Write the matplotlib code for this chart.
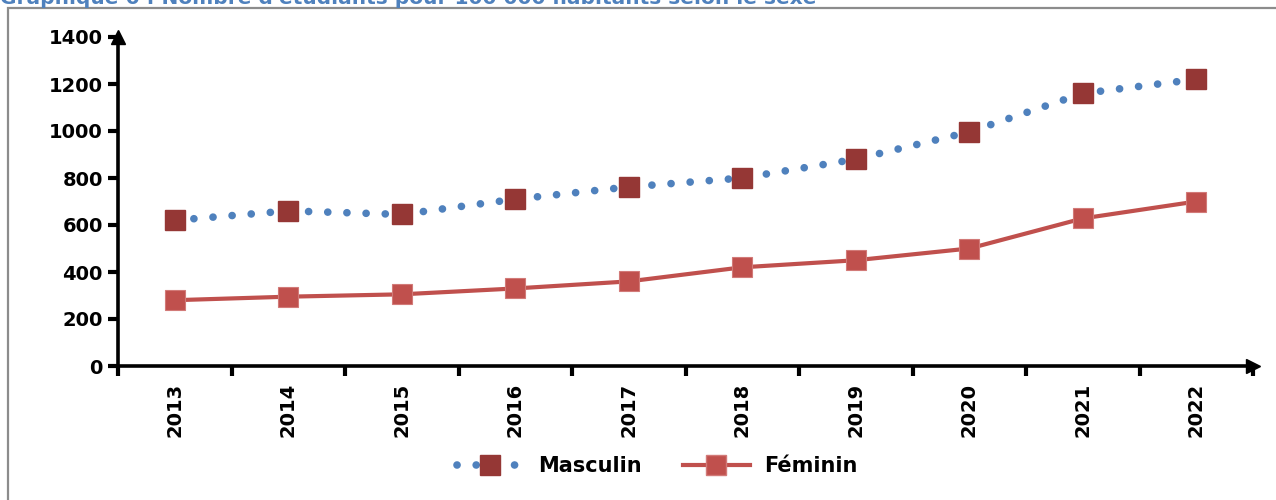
import matplotlib.pyplot as plt
import matplotlib
from matplotlib.lines import Line2D
from matplotlib.patches import Rectangle

matplotlib.rcParams['font.family'] = ['DejaVu Sans']
matplotlib.rcParams['font.weight'] = 'bold'

annees = ['2013', '2014', '2015', '2016', '2017', '2018', '2019', '2020', '2021', '2022']
masculin = [620, 660, 645, 710, 762, 800, 880, 996, 1160, 1220]
feminin = [280, 295, 305, 330, 360, 420, 450, 500, 628, 700]
titre = "Graphique 6 : Nombre d'étudiants pour 100 000 habitants selon le sexe"

fig = plt.figure(figsize=(12.76, 5), dpi=100)
ax = fig.add_axes([118 / 1276, 1 - 366 / 500, (1253 - 118) / 1276, (366 - 37) / 500])

pointille = (0, (0.01, 2.5))
x = list(range(len(annees)))
ax.plot(x, masculin, color='#4F81BD', lw=5.5, linestyle=pointille,
        dash_capstyle='round', zorder=2)
ax.plot(x, masculin, linestyle='none', marker='s', ms=14.5, color='#953735',
        mec='#953735', zorder=3)
ax.plot(x, feminin, color='#C0504D', lw=3, marker='s', ms=15,
        mfc='#C0504D', mec='#D27A78', mew=0.8, zorder=3)

ax.set_xlim(-0.5, 9.5)
ax.set_ylim(0, 1400)
ax.set_yticks(range(0, 1401, 200))
ax.set_xticks([i - 0.5 for i in range(len(annees) + 1)], minor=False)
ax.set_xticklabels([])
ax.set_xticks(x, minor=True)
ax.set_xticklabels(annees, minor=True, rotation=90, fontsize=14, fontweight='bold')
ax.tick_params(axis='x', which='minor', length=0, pad=12)
ax.tick_params(axis='x', which='major', direction='out', length=7, width=3)
ax.tick_params(axis='y', direction='out', length=7, width=3, labelsize=14, pad=4)
for lab in ax.get_yticklabels():
    lab.set_fontweight('bold')

for s in ['top', 'right']:
    ax.spines[s].set_visible(False)
for s in ['left', 'bottom']:
    ax.spines[s].set_linewidth(2.6)
ax.plot(1, 0, '>', color='black', ms=10, transform=ax.transAxes, clip_on=False)
ax.plot(-0.5, 1, '^', color='black', ms=10, transform=ax.get_xaxis_transform(),
        clip_on=False)

h1 = Line2D([], [], color='#4F81BD', lw=5.5, linestyle=pointille,
            dash_capstyle='round', marker='s', ms=14.5, mfc='#953735', mec='#953735')
h2 = Line2D([], [], color='#C0504D', lw=3, marker='s', ms=15, mfc='#C0504D', mec='#D27A78')
fig.legend([h1, h2], ['Masculin', 'Féminin'], loc='center', bbox_to_anchor=(0.515, 1 - 466 / 500),
           ncol=2, frameon=False, handlelength=3.2, columnspacing=2.0, handletextpad=0.7,
           prop={'weight': 'bold', 'size': 15})

fig.add_artist(Rectangle((8 / 1276, -0.1), 1.2, 1 - 8 / 500 + 0.1, transform=fig.transFigure,
                         fill=False, edgecolor='#8C8C8C', lw=1.6))
fig.text(0.0, 1 - 4 / 500, titre, color='#4F81BD', fontsize=14.5, fontweight='bold',
         ha='left', va='baseline')

fig.savefig('out.png', dpi=100)
